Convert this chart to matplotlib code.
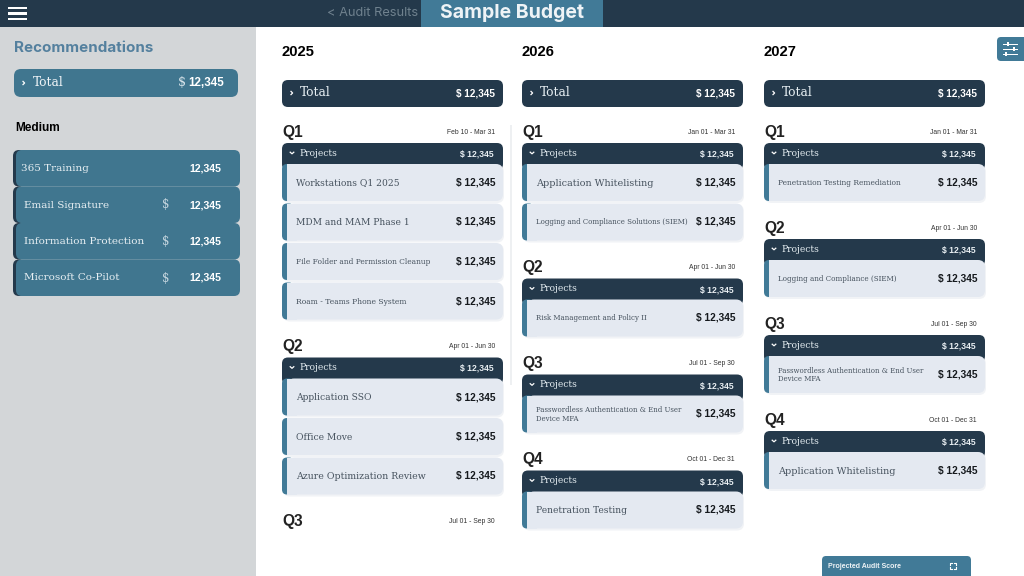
"""Sample budget dashboard drawn with plain matplotlib patches."""

import matplotlib
matplotlib.use("Agg")
import matplotlib.pyplot as plt
from matplotlib.patches import FancyBboxPatch, Rectangle

DARK = "#24394b"
BLUE = "#417a97"
SIDE_BLUE = "#40768f"
SIDEBAR = "#d3d6d8"
CARD = "#e4e9f1"
SERIF = "DejaVu Serif"
SANS = "Liberation Sans"
HEAD = "Inter"

AMOUNT = "12,345"
YEARS = ["2025", "2026", "2027"]
QUARTERS = ["Q1", "Q2", "Q3", "Q4"]

DATES_2025 = ["Feb 10 - Mar 31", "Apr 01 - Jun 30", "Jul 01 - Sep 30"]
DATES_LATER = ["Jan 01 - Mar 31", "Apr 01 - Jun 30", "Jul 01 - Sep 30", "Oct 01 - Dec 31"]

PROJECTS_2025 = [
    ["Workstations Q1 2025", "MDM and MAM Phase 1", "File Folder and Permission Cleanup", "Roam - Teams Phone System"],
    ["Application SSO", "Office Move", "Azure Optimization Review"],
    [],
]
PROJECTS_2026 = [
    ["Application Whitelisting", "Logging and Compliance Solutions (SIEM)"],
    ["Risk Management and Policy II"],
    ["Passwordless Authentication & End User\nDevice MFA"],
    ["Penetration Testing"],
]
PROJECTS_2027 = [
    ["Penetration Testing Remediation"],
    ["Logging and Compliance (SIEM)"],
    ["Passwordless Authentication & End User\nDevice MFA"],
    ["Application Whitelisting"],
]

RECOMMENDATIONS = ["365 Training", "Email Signature", "Information Protection", "Microsoft Co-Pilot"]

# labels that shrink to fit their card, everything else uses 6.6
LABEL_SIZES = {
    "File Folder and Permission Cleanup": 5.45,
    "Roam - Teams Phone System": 5.5,
    "Logging and Compliance Solutions (SIEM)": 5.05,
    "Risk Management and Policy II": 5.0,
    "Passwordless Authentication & End User\nDevice MFA": 5.05,
    "Penetration Testing Remediation": 5.45,
    "Logging and Compliance (SIEM)": 5.15,
    "Application Whitelisting": 6.9,
    "Azure Optimization Review": 6.75,
}

COLUMN_X = [282, 522, 764]
COLUMN_W = 221

fig = plt.figure(figsize=(10.24, 5.76), dpi=100, facecolor="white")
ax = fig.add_axes([0, 0, 1, 1])
ax.set_xlim(0, 1024)
ax.set_ylim(576, 0)
ax.axis("off")


def box(x, y, w, h, color, radius=6, z=2, **kw):
    patch = FancyBboxPatch(
        (x, y), w, h,
        boxstyle=f"round,pad=0,rounding_size={radius}",
        facecolor=color, edgecolor="none", zorder=z, **kw,
    )
    ax.add_patch(patch)


def rect(x, y, w, h, color, z=1):
    ax.add_patch(Rectangle((x, y), w, h, facecolor=color, edgecolor="none", zorder=z))


def label(x, y, s, size, color="black", family=SANS, weight="normal", ha="left", **kw):
    ax.text(x, y, s, fontsize=size, color=color, family=family, weight=weight,
            ha=ha, va="center", zorder=6, **kw)


def chevron_right(x, y, color="white"):
    ax.plot([x - 1, x + 0.6, x - 1], [y - 1.6, y, y + 1.6], color=color, lw=0.9, zorder=6)


def chevron_down(x, y, color="white"):
    ax.plot([x - 1.8, x, x + 1.8], [y - 0.8, y + 0.8, y - 0.8], color=color, lw=0.9, zorder=6)


def draw_header():
    rect(0, 0, 1024, 27, DARK, z=3)
    rect(421, 0, 182, 27, BLUE, z=4)
    for y in [8, 13.5, 19]:
        rect(8, y - 1.2, 19, 2.4, "white", z=5)
    label(327, 13, "< Audit Results", 9.2, color="#6f818e", family=HEAD)
    label(512, 13, "Sample Budget", 14, color="#eef3f6", family=HEAD, weight="bold", ha="center")


def draw_sidebar():
    rect(0, 27, 256, 549, SIDEBAR)
    label(14, 48, "Recommendations", 10.9, color="#54809e", family=HEAD, weight="bold")
    box(14, 69, 224, 28, SIDE_BLUE, radius=7)
    chevron_right(24, 83)
    label(33, 83, "Total", 8.8, color="#eef3f6", family=SERIF)
    label(178, 83, "$", 9, color="#dbe6ec", family=SERIF)
    label(224, 83, AMOUNT, 8.4, color="white", weight="bold", ha="right")
    label(15, 128, "Medium", 8.6, weight="bold")

    for i, name in enumerate(RECOMMENDATIONS):
        y = 150 + i * 36.5
        box(13, y, 12, 36.5, DARK, radius=6, z=2)
        box(16, y, 224, 36.5, SIDE_BLUE, radius=6, z=2.5)
        x = 21 if i == 0 else 24
        label(x, y + 18.5, name, 7.5, color="#e6eef2", family=SERIF)
        if i > 0:
            label(166, y + 18.5, "$", 8.4, color="#c6d6df", family=SERIF, ha="center")
        label(221, y + 18.5, AMOUNT, 7.6, color="white", weight="bold", ha="right")


def draw_quarter(x, q_y, quarter, dates, projects):
    label(x, q_y + 1, quarter, 11.2, color="#222222", weight="bold")
    label(x + 213, q_y + 1, dates, 4.9, color="#333333", ha="right")
    if not projects:
        return q_y + 33

    head_y = q_y + 12
    top = q_y + 33
    box(x, head_y, COLUMN_W, 27, DARK, radius=6, z=2)
    chevron_down(x + 10, head_y + 10)
    label(x + 17, head_y + 10, "Projects", 6.6, color="#e6eef2", family=SERIF)
    label(x + 212, head_y + 11, f"$ {AMOUNT}", 6.2, color="#e8eef2", weight="bold", ha="right")

    for i, name in enumerate(projects):
        y = top + i * 39.5
        box(x + 1, y + 1, COLUMN_W, 38, "#f1f3f6", radius=7, z=1.5)
        box(x, y, 12, 37, BLUE, radius=5, z=3)
        rect(x + 5, y, 10, 37, CARD, z=3.2)
        box(x + 5, y, COLUMN_W - 5, 37, CARD, radius=7, z=3.5)
        label(x + 14, y + 19, name, LABEL_SIZES.get(name, 6.6), color="#46525e", family=SERIF,
              linespacing=1.15)
        label(x + 213, y + 18.5, f"$ {AMOUNT}", 7.3, color="#15191d", weight="bold", ha="right")
    return top + (len(projects) - 1) * 39.5 + 37


def draw_column(x, year, all_dates, all_projects):
    label(x, 52, year, 10.6, weight="bold")
    box(x, 80, COLUMN_W, 27, DARK, radius=6)
    chevron_right(x + 10, 93)
    label(x + 18, 93, "Total", 8.8, color="#e6eef2", family=SERIF)
    label(x + 213, 93, f"$ {AMOUNT}", 7.2, color="white", weight="bold", ha="right")

    q_y = 131
    for quarter, dates, projects in zip(QUARTERS, all_dates, all_projects):
        end = draw_quarter(x, q_y, quarter, dates, projects)
        q_y = end + 26


def draw_extras():
    # divider between 2025 and 2026
    rect(510, 125, 1.5, 260, "#eef0f2")

    # filter button, sliders icon
    box(997, 37, 40, 24, BLUE, radius=4)
    for y, knob in zip([44, 49, 54], [1008, 1014, 1006]):
        rect(1003, y - 0.5, 15, 1, "white", z=5)
        rect(knob - 1, y - 2, 2, 4, "white", z=5)

    # audit score tab, cut off by the bottom edge
    box(822, 556, 149, 30, BLUE, radius=4)
    label(828, 566, "Projected Audit Score", 5.0, color="#eef3f6", weight="bold")
    ix, iy = 953, 566
    for sx in (-1, 1):
        for sy in (-1, 1):
            ax.plot([ix + sx * 3, ix + sx * 3, ix + sx * 1], [iy + sy * 1, iy + sy * 3, iy + sy * 3],
                    color="white", lw=0.8, zorder=6)


draw_header()
draw_sidebar()
draw_column(COLUMN_X[0], YEARS[0], DATES_2025, PROJECTS_2025)
draw_column(COLUMN_X[1], YEARS[1], DATES_LATER, PROJECTS_2026)
draw_column(COLUMN_X[2], YEARS[2], DATES_LATER, PROJECTS_2027)
draw_extras()

fig.savefig("out.png", dpi=100)
